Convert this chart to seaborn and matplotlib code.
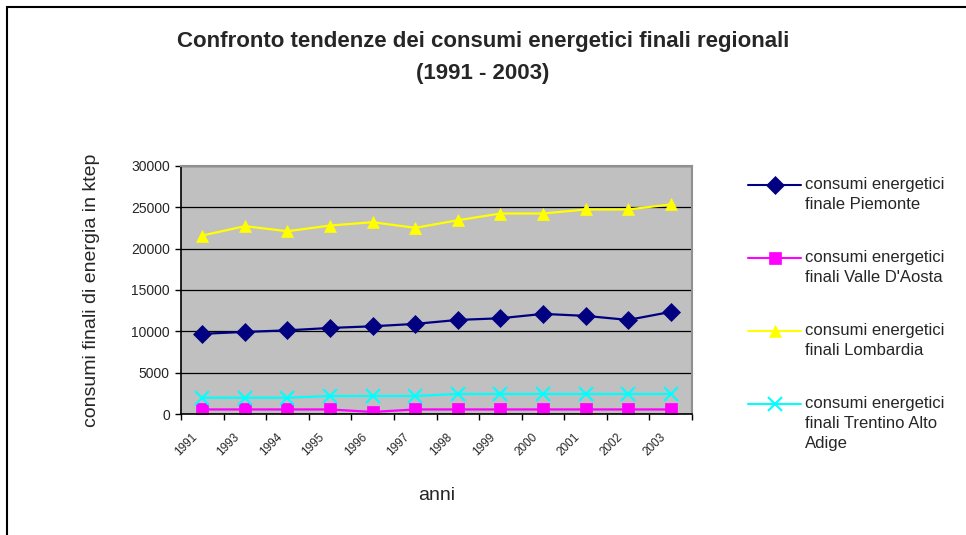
import pandas as pd
import numpy as np
import matplotlib
matplotlib.use('Agg')
import matplotlib.pyplot as plt
import seaborn as sns
from matplotlib.patches import Rectangle
from matplotlib.legend_handler import HandlerLine2D

# dati (ktep)
anni = ['1991', '1993', '1994', '1995', '1996', '1997', '1998', '1999', '2000', '2001', '2002', '2003']
piemonte = [9700, 9930, 10120, 10410, 10610, 10900, 11380, 11580, 12110, 11870, 11380, 12350]
valle_aosta = [550, 550, 550, 550, 250, 550, 550, 550, 550, 550, 550, 550]
lombardia = [21590, 22720, 22110, 22800, 23200, 22520, 23440, 24250, 24250, 24740, 24740, 25350]
trentino = [1970, 1970, 1970, 2180, 2180, 2180, 2420, 2420, 2420, 2420, 2420, 2420]

serie = ['consumi energetici\nfinale Piemonte',
         "consumi energetici\nfinali Valle D'Aosta",
         'consumi energetici\nfinali Lombardia',
         'consumi energetici\nfinali Trentino Alto\nAdige']
valori = [piemonte, valle_aosta, lombardia, trentino]
colori = ['#000080', '#FF00FF', '#FFFF00', '#00FFFF']
marcatori = ['D', 's', '^', 'x']

sns.set_style('white')
plt.rcParams['font.family'] = ['Liberation Sans', 'DejaVu Sans']

DPI = 100
PASSO_RIGA = 20  # px tra le righe della legenda


# simbolo della legenda allineato alla prima riga del testo (come in Excel)
class HandlerPrimaRiga(HandlerLine2D):
    def __init__(self, nrighe, **kw):
        super().__init__(**kw)
        self.nrighe = nrighe

    def create_artists(self, legend, orig_handle, xdescent, ydescent, width, height, fontsize, trans):
        artisti = super().create_artists(legend, orig_handle, xdescent, ydescent, width, height, fontsize, trans)
        dy = (self.nrighe - 1) / 2 * PASSO_RIGA * 72 / DPI
        for a in artisti:
            a.set_ydata(np.asarray(a.get_ydata()) + dy)
        return artisti


fig = plt.figure(figsize=(9.66, 5.35), dpi=DPI)
ax = fig.add_axes([181 / 966, 1 - 414 / 535, 511 / 966, 248 / 535])
ax.set_facecolor('#C0C0C0')

pos = np.arange(len(anni))
for nome, v, c, m in zip(serie, valori, colori, marcatori):
    df = pd.DataFrame({'x': pos, 'y': v})
    sns.lineplot(data=df, x='x', y='y', ax=ax, color=c, marker=m, markersize=9 if m != 'x' else 10,
                 markeredgecolor=c, markeredgewidth=1.5 if m == 'x' else 0.5, linewidth=1.6, label=nome)

ax.set_xlim(-0.5, len(anni) - 0.5)
ax.set_ylim(0, 30000)
ax.set_yticks(range(0, 30001, 5000))
ax.yaxis.grid(True, color='black', linewidth=0.9)
ax.set_axisbelow(True)
ax.tick_params(axis='y', direction='out', length=4, width=1, color='black', labelsize=10, pad=4, left=True)
# etichette degli anni un po' spostate a sinistra, come nell'originale
ax.set_xticks(pos - 0.27)
ax.set_xticklabels(anni, rotation=45, fontsize=8.5, ha='right', rotation_mode='anchor')
ax.set_xticks(np.arange(-0.5, len(anni), 1), minor=True)
ax.tick_params(axis='x', which='major', length=0, pad=12)
ax.tick_params(axis='x', which='minor', direction='out', length=4, width=1, color='black', bottom=True)
for lato in ['left', 'bottom']:
    ax.spines[lato].set_color('black')
    ax.spines[lato].set_linewidth(1.2)
for lato in ['top', 'right']:
    ax.spines[lato].set_color('#909090')
    ax.spines[lato].set_linewidth(1.5)

ax.set_xlabel('anni', fontsize=14, labelpad=21)
ax.set_ylabel('consumi finali di energia in ktep', fontsize=14, labelpad=22)

handles, labels = ax.get_legend_handles_labels()
ax.get_legend().remove()
hmap = {h: HandlerPrimaRiga(lab.count('\n') + 1) for h, lab in zip(handles, labels)}
leg = fig.legend(handles, labels, loc='upper left', bbox_to_anchor=(733 / 966, 1 - 162 / 535),
                 frameon=False, fontsize=12, handlelength=3.2, handletextpad=0.2, labelspacing=2.3,
                 handler_map=hmap)
for t in leg.get_texts():
    t.set_linespacing(1.4)
for l in leg.get_lines():
    l.set_linewidth(1.5)

fig.text(0.5, 1 - 41 / 535, 'Confronto tendenze dei consumi energetici finali regionali',
         ha='center', va='center', fontsize=16, fontweight='bold')
fig.text(0.5, 1 - 74 / 535, '(1991 - 2003)', ha='center', va='center', fontsize=16, fontweight='bold')

fig.patches.append(Rectangle((7 / 966, -0.1), 1.2, 1 - 7 / 535 + 0.1, transform=fig.transFigure,
                             fill=False, edgecolor='black', linewidth=1.5))

fig.savefig('out.png', dpi=DPI)
